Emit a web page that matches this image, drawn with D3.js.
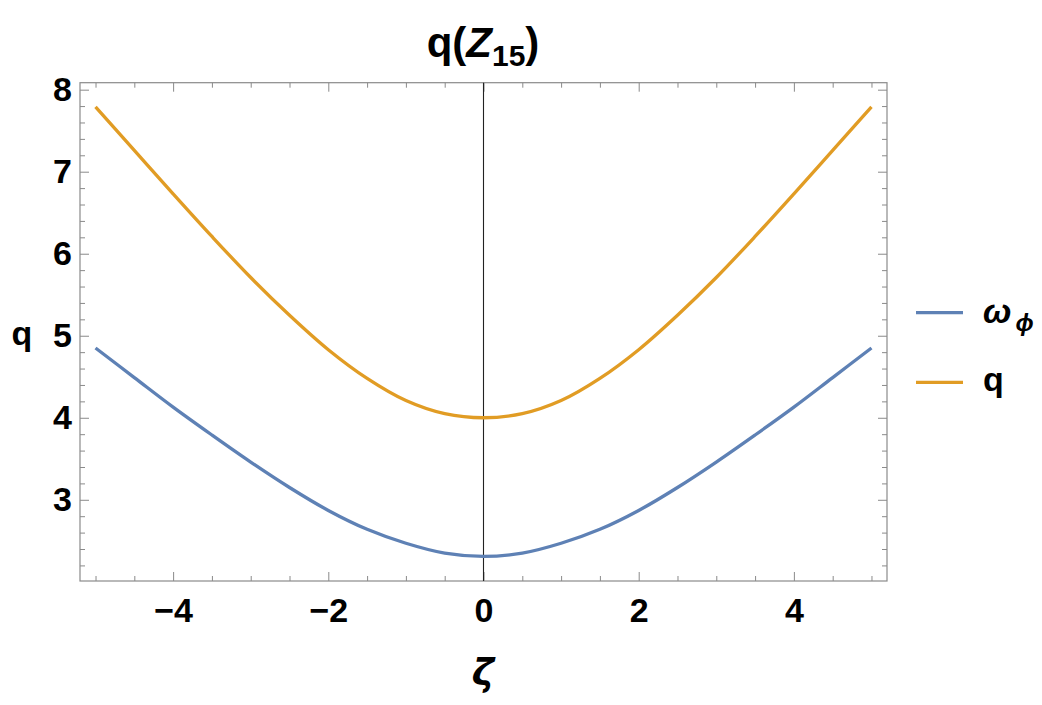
<!DOCTYPE html>
<html>
<head>
<meta charset="utf-8">
<script src="https://cdn.jsdelivr.net/npm/d3@7"></script>
<style>
  body { margin: 0; background: #fff; }
  text { font-family: "Liberation Sans", Arial, sans-serif; font-weight: bold; }
</style>
</head>
<body>
<script>
// values
var zeta   = [-5, -4.5, -4, -3.5, -3, -2.5, -2, -1.5, -1, -0.5, 0, 0.5, 1, 1.5, 2, 2.5, 3, 3.5, 4, 4.5, 5];
var omegaPhi = [4.85, 4.49, 4.13, 3.79, 3.46, 3.15, 2.87, 2.64, 2.47, 2.35, 2.31, 2.35, 2.47, 2.64, 2.87, 3.15, 3.46, 3.79, 4.13, 4.49, 4.85];
var qVals  = [7.79, 7.26, 6.73, 6.21, 5.71, 5.25, 4.83, 4.48, 4.21, 4.05, 4.00, 4.05, 4.21, 4.48, 4.83, 5.25, 5.71, 6.21, 6.73, 7.26, 7.79];

var xTicks = [-4, -2, 0, 2, 4];
var yTicks = [3, 4, 5, 6, 7, 8];

var seriesNames  = ["ω", "q"];
var seriesColors = ["#5e81b5", "#e19c24"];

var width = 1042, height = 705;
var frame = {left: 80, right: 887, top: 82.7, bottom: 581};

var svg = d3.select("body").append("svg")
    .attr("width", width)
    .attr("height", height);

var x = d3.scaleLinear().domain([-5.2, 5.2]).range([frame.left, frame.right]);
var y = d3.scaleLinear().domain([2.01, 8.085]).range([frame.bottom, frame.top]);

var xMinor = d3.range(-5, 5.01, 0.5).filter(function(v) { return xTicks.indexOf(v) < 0; });
var yMinor = d3.range(2.2, 8.01, 0.2).map(function(v) { return +v.toFixed(1); })
    .filter(function(v) { return yTicks.indexOf(v) < 0; });

var fmt = function(d) { return d3.format("d")(d); };
var tickColor = "#8a8a8a";

function styleAxis(g) {
    g.select(".domain").remove();
    g.selectAll(".tick line").attr("stroke", tickColor).attr("stroke-width", 1);
    g.selectAll(".tick text")
        .attr("fill", "#000")
        .style("font-size", "34px")
        .style("font-family", "Liberation Sans, Arial, sans-serif")
        .style("font-weight", "bold");
}

// bottom
svg.append("g").attr("transform", "translate(0," + frame.bottom + ")")
    .call(d3.axisBottom(x).tickValues(xTicks).tickSize(-9).tickPadding(17).tickFormat(fmt))
    .call(styleAxis);
svg.append("g").attr("transform", "translate(0," + frame.bottom + ")")
    .call(d3.axisBottom(x).tickValues(xMinor).tickSize(-5).tickFormat(""))
    .call(styleAxis);
// top
svg.append("g").attr("transform", "translate(0," + frame.top + ")")
    .call(d3.axisTop(x).tickValues(xTicks).tickSize(-9).tickFormat(""))
    .call(styleAxis);
svg.append("g").attr("transform", "translate(0," + frame.top + ")")
    .call(d3.axisTop(x).tickValues(xMinor).tickSize(-5).tickFormat(""))
    .call(styleAxis);
// left
svg.append("g").attr("transform", "translate(" + frame.left + ",0)")
    .call(d3.axisLeft(y).tickValues(yTicks).tickSize(-9).tickPadding(8).tickFormat(fmt))
    .call(styleAxis);
svg.append("g").attr("transform", "translate(" + frame.left + ",0)")
    .call(d3.axisLeft(y).tickValues(yMinor).tickSize(-5).tickFormat(""))
    .call(styleAxis);
// right
svg.append("g").attr("transform", "translate(" + frame.right + ",0)")
    .call(d3.axisRight(y).tickValues(yTicks).tickSize(-9).tickFormat(""))
    .call(styleAxis);
svg.append("g").attr("transform", "translate(" + frame.right + ",0)")
    .call(d3.axisRight(y).tickValues(yMinor).tickSize(-5).tickFormat(""))
    .call(styleAxis);

// frame
svg.append("rect")
    .attr("x", frame.left).attr("y", frame.top)
    .attr("width", frame.right - frame.left)
    .attr("height", frame.bottom - frame.top)
    .attr("fill", "none")
    .attr("stroke", tickColor)
    .attr("stroke-width", 1.2);

// vertical axis at zeta = 0
svg.append("line")
    .attr("x1", x(0)).attr("x2", x(0))
    .attr("y1", frame.top).attr("y2", frame.bottom)
    .attr("stroke", "#222")
    .attr("stroke-width", 1.1);

var line = d3.line().curve(d3.curveCatmullRom);

[omegaPhi, qVals].forEach(function(vals, i) {
    svg.append("path")
        .datum(zeta.map(function(z, j) { return [x(z), y(vals[j])]; }))
        .attr("d", line)
        .attr("fill", "none")
        .attr("stroke", seriesColors[i])
        .attr("stroke-width", 3.3);
});

// title
var title = svg.append("text")
    .attr("x", 483).attr("y", 57)
    .attr("text-anchor", "middle")
    .style("font-size", "42px");
title.append("tspan").text("q(");
title.append("tspan").style("font-style", "italic").text("Z");
title.append("tspan").attr("dy", 9).style("font-size", "30px").text("15");
title.append("tspan").attr("dy", -9).text(")");

// axis labels
svg.append("text")
    .attr("x", 22).attr("y", 345)
    .attr("text-anchor", "middle")
    .style("font-size", "34px")
    .text("q");

svg.append("text")
    .attr("x", 483).attr("y", 685)
    .attr("text-anchor", "middle")
    .style("font-size", "38px")
    .style("font-style", "italic")
    .style("font-family", "DejaVu Sans, sans-serif")
    .text("ζ");

// legend
var legendY = [312.7, 382.3];
var legend = svg.append("g");
legendY.forEach(function(ly, i) {
    legend.append("line")
        .attr("x1", 916).attr("x2", 963)
        .attr("y1", ly).attr("y2", ly)
        .attr("stroke", seriesColors[i])
        .attr("stroke-width", 3.3);
});
var lw = legend.append("text")
    .attr("x", 983).attr("y", 323)
    .style("font-size", "34px");
lw.append("tspan").style("font-style", "italic").text(seriesNames[0]);
lw.append("tspan").attr("dx", 4).attr("dy", 8).style("font-size", "24px").style("font-style", "italic").text("ϕ");

legend.append("text")
    .attr("x", 983).attr("y", 391)
    .style("font-size", "34px")
    .text(seriesNames[1]);
</script>
</body>
</html>
